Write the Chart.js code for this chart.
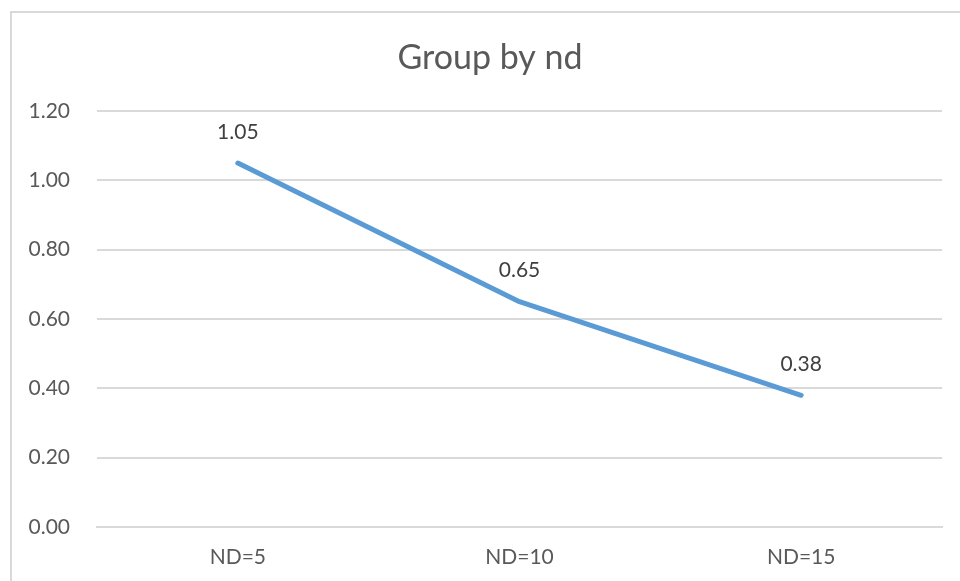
<!DOCTYPE html>
<html>
<head>
<meta charset="utf-8">
<title>Group by nd</title>
<script src="https://cdn.jsdelivr.net/npm/chart.js@4/dist/chart.umd.min.js"></script>
<style>
  html, body { margin: 0; padding: 0; background: #ffffff; }
  #wrap { position: relative; width: 960px; height: 581px; }
</style>
</head>
<body>
<div id="wrap"><canvas id="chart" width="960" height="581"></canvas></div>
<script>
// Average value per ND setting
const chartTitle = 'Group by nd';
const categories = ['ND=5', 'ND=10', 'ND=15'];
const values = [1.05, 0.65, 0.38];
const yTicks = [0.00, 0.20, 0.40, 0.60, 0.80, 1.00, 1.20];

const FONT = 'Lato, "Open Sans", sans-serif';

// Light frame around the whole chart, with the title centred in the frame
const framePlugin = {
  id: 'frame',
  beforeDraw(chart) {
    const ctx = chart.ctx;
    ctx.save();
    ctx.fillStyle = '#ffffff';
    ctx.fillRect(0, 0, chart.width, chart.height);
    ctx.strokeStyle = '#d9d9d9';
    ctx.lineWidth = 2;
    ctx.strokeRect(11, 12, chart.width + 40, chart.height + 40);
    ctx.font = '34px ' + FONT;
    ctx.fillStyle = '#595959';
    ctx.textAlign = 'center';
    ctx.textBaseline = 'middle';
    ctx.fillText(chartTitle, 490, 58);
    ctx.restore();
  }
};

// Value labels above each point
const valueLabels = {
  id: 'valueLabels',
  afterDatasetsDraw(chart) {
    const ctx = chart.ctx;
    const meta = chart.getDatasetMeta(0);
    ctx.save();
    ctx.font = '21px ' + FONT;
    ctx.fillStyle = '#404040';
    ctx.textAlign = 'center';
    ctx.textBaseline = 'middle';
    meta.data.forEach((pt, i) => {
      ctx.fillText(values[i].toFixed(2), pt.x, pt.y - 31);
    });
    ctx.restore();
  }
};

new Chart(document.getElementById('chart'), {
  type: 'line',
  data: {
    labels: categories,
    datasets: [{
      data: values,
      borderColor: '#5b9bd5',
      borderWidth: 5,
      borderCapStyle: 'round',
      borderJoinStyle: 'round',
      pointRadius: 0,
      pointHoverRadius: 0,
      tension: 0,
      fill: false
    }]
  },
  options: {
    responsive: false,
    animation: false,
    events: [],
    layout: { padding: { top: 111, left: 0, right: 18, bottom: 0 } },
    plugins: {
      legend: { display: false },
      tooltip: { enabled: false },
      title: { display: false }
    },
    scales: {
      x: {
        offset: true,
        grid: { display: false, drawTicks: false },
        border: { display: true, color: '#d9d9d9', width: 2 },
        ticks: {
          color: '#595959',
          font: { family: FONT, size: 21 },
          padding: 18,
          maxRotation: 0
        },
        afterFit(scale) { scale.height = 54; }
      },
      y: {
        min: 0,
        max: 1.2,
        afterBuildTicks(scale) {
          scale.ticks = yTicks.map(v => ({ value: v }));
        },
        grid: { color: '#d9d9d9', lineWidth: 2, drawTicks: false },
        border: { display: false },
        ticks: {
          color: '#595959',
          font: { family: FONT, size: 21 },
          padding: 27,
          callback: v => Number(v).toFixed(2)
        },
        afterFit(scale) { scale.width = 97; }
      }
    }
  },
  plugins: [framePlugin, valueLabels]
});
</script>
</body>
</html>
